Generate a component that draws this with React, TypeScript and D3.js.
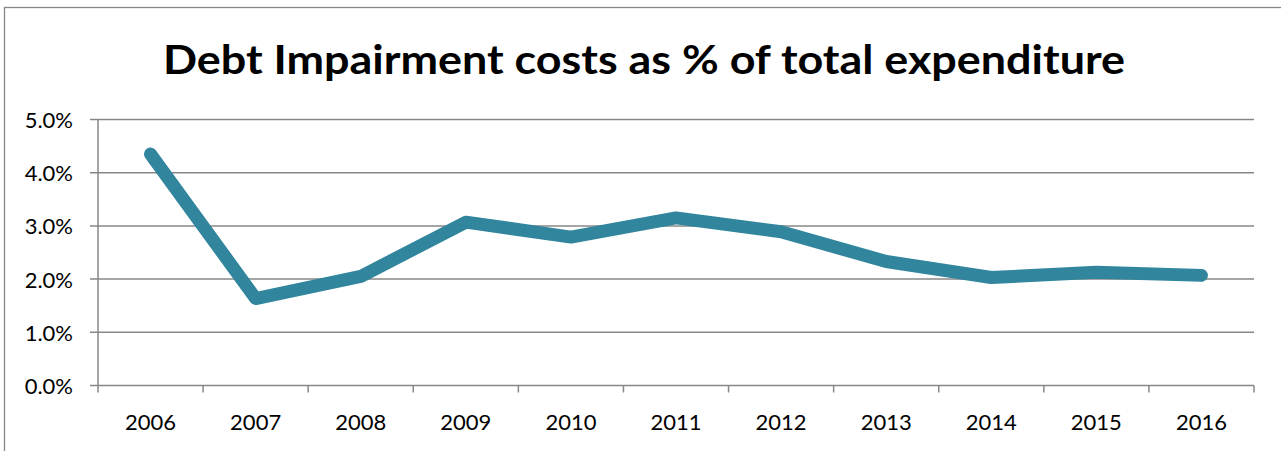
import React from "react";
import * as d3 from "d3";

const years = ["2006","2007","2008","2009","2010","2011","2012","2013","2014","2015","2016"];
const values = [4.35, 1.635, 2.05, 3.07, 2.79, 3.15, 2.89, 2.33, 2.03, 2.13, 2.07];
const yTicks = [0, 1, 2, 3, 4, 5];
const title = "Debt Impairment costs as % of total expenditure";

export default function App() {
  const W = 1281, H = 451;
  const left = 98, right = 1254, top = 119.5, bottom = 385.5;
  const x = d3.scaleBand<string>().domain(years).range([left, right]).padding(0);
  const y = d3.scaleLinear().domain([0, 5]).range([bottom, top]);
  const line = d3.line<number>()
    .x((_, i) => (x(years[i]) as number) + x.bandwidth() / 2)
    .y((d) => y(d));
  const font = "Lato, 'Open Sans', sans-serif";
  const grid = "#878787";
  return (
    <svg width={W} height={H} style={{ position: "absolute", left: 0, top: 0, background: "#fff" }}>
      <rect x={4.5} y={7.5} width={1300} height={500} fill="#fff" stroke={grid} strokeWidth={1.3} />
      <text x={644} y={74} textAnchor="middle" fontFamily={font} fontWeight="bold" fontSize={40}
        textLength={962} lengthAdjust="spacingAndGlyphs" fill="#000">{title}</text>
      {yTicks.map((t) => (
        <g key={t}>
          <line x1={90} x2={right} y1={y(t)} y2={y(t)} stroke={grid} strokeWidth={1.5} />
          <text x={73} y={y(t) + 8.5} textAnchor="end" fontFamily={font} fontSize={22} fill="#000">
            {t.toFixed(1) + "%"}
          </text>
        </g>
      ))}
      <line x1={left} x2={left} y1={top} y2={bottom + 7} stroke={grid} strokeWidth={1.5} />
      {years.map((yr, i) => (
        <g key={yr}>
          <line x1={(x(yr) as number) + x.bandwidth()} x2={(x(yr) as number) + x.bandwidth()}
            y1={bottom} y2={bottom + 7} stroke={grid} strokeWidth={1.5} />
          <text x={(x(yr) as number) + x.bandwidth() / 2} y={430} textAnchor="middle"
            fontFamily={font} fontSize={22} fill="#000">{yr}</text>
        </g>
      ))}
      <path d={line(values) || ""} fill="none" stroke="#31859C" strokeWidth={13}
        strokeLinecap="round" strokeLinejoin="round" />
    </svg>
  );
}
